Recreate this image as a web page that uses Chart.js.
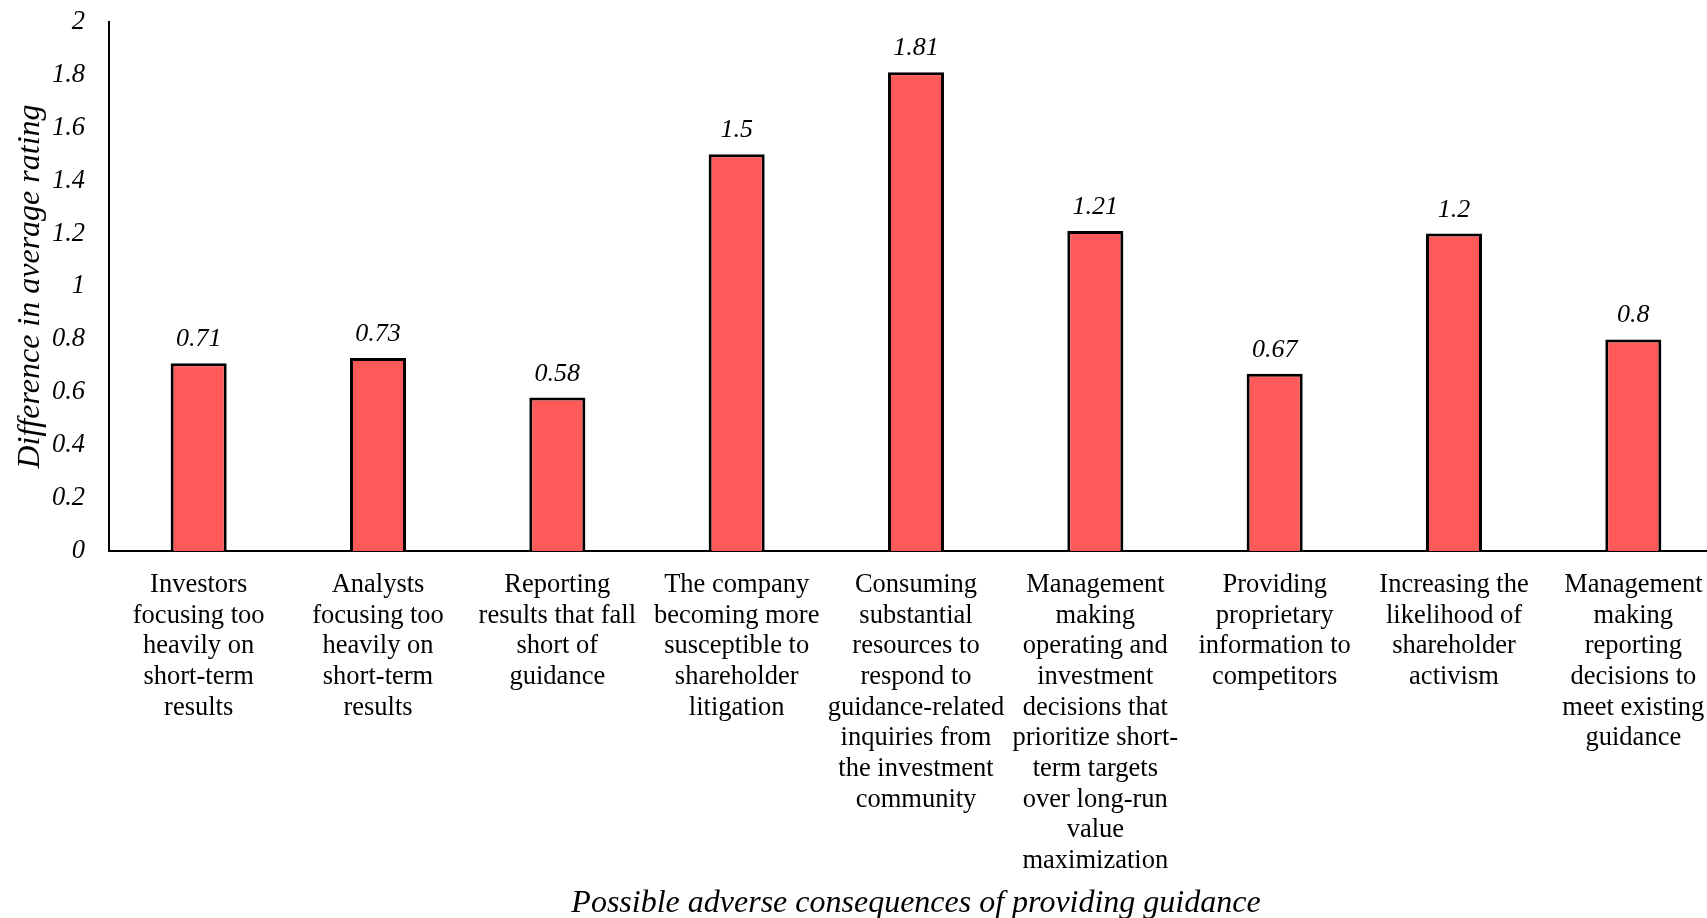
<!DOCTYPE html>
<html lang="en">
<head>
    <meta charset="UTF-8">
    <title>Possible adverse consequences of providing guidance</title>
    <script src="https://cdn.jsdelivr.net/npm/chart.js"></script>
    <style>
        html, body { margin: 0; padding: 0; background: #fff; overflow: hidden; }
        #wrap { width: 1724px; height: 918px; }
    </style>
</head>
<body>
    <div id="wrap">
        <canvas id="myChart" width="1724" height="918"></canvas>
    </div>
    <script>
        // categories, one entry per bar (already split into lines)
        const consequences = [
            ["Investors", "focusing too", "heavily on", "short-term", "results"],
            ["Analysts", "focusing too", "heavily on", "short-term", "results"],
            ["Reporting", "results that fall", "short of", "guidance"],
            ["The company", "becoming more", "susceptible to", "shareholder", "litigation"],
            ["Consuming", "substantial", "resources to", "respond to", "guidance-related", "inquiries from", "the investment", "community"],
            ["Management", "making", "operating and", "investment", "decisions that", "prioritize short-", "term targets", "over long-run", "value", "maximization"],
            ["Providing", "proprietary", "information to", "competitors"],
            ["Increasing the", "likelihood of", "shareholder", "activism"],
            ["Management", "making", "reporting", "decisions to", "meet existing", "guidance"]
        ];

        const ratingDiff = [0.71, 0.73, 0.58, 1.5, 1.81, 1.21, 0.67, 1.2, 0.8];

        const yTicks = ["0", "0.2", "0.4", "0.6", "0.8", "1", "1.2", "1.4", "1.6", "1.8", "2"];

        const serif = "'Liberation Serif', 'Times New Roman', serif";

        // value written above each bar
        const barValues = {
            id: 'barValues',
            afterDatasetsDraw(chart) {
                const ctx = chart.ctx;
                const meta = chart.getDatasetMeta(0);
                ctx.save();
                ctx.font = 'italic 26px ' + serif;
                ctx.fillStyle = '#000';
                ctx.textAlign = 'center';
                ctx.textBaseline = 'alphabetic';
                meta.data.forEach(function(bar, i) {
                    ctx.fillText(String(ratingDiff[i]), bar.x, bar.y - 17);
                });
                ctx.restore();
            }
        };

        const ctx = document.getElementById('myChart').getContext('2d');

        const myChart = new Chart(ctx, {
            type: 'bar',
            data: {
                labels: consequences,
                datasets: [{
                    data: ratingDiff,
                    backgroundColor: '#FF5A5A',
                    borderColor: '#000',
                    borderWidth: 3,
                    borderSkipped: 'bottom',
                    barPercentage: 1,
                    categoryPercentage: 0.3125
                }]
            },
            options: {
                responsive: false,
                animation: false,
                layout: { padding: { top: 22, right: 1, left: 0, bottom: 0 } },
                plugins: {
                    legend: { display: false },
                    tooltip: { enabled: false }
                },
                scales: {
                    x: {
                        grid: { display: false, drawTicks: false },
                        border: { display: true, color: '#000', width: 2 },
                        ticks: {
                            autoSkip: false,
                            maxRotation: 0,
                            minRotation: 0,
                            padding: 19,
                            color: '#000',
                            font: { family: serif, size: 26.5, lineHeight: 1.155 }
                        },
                        title: {
                            display: true,
                            text: 'Possible adverse consequences of providing guidance',
                            color: '#000',
                            font: { family: serif, size: 32, style: 'italic', lineHeight: 0.88 },
                            padding: { top: 0, bottom: 0 }
                        },
                        afterFit: function(scale) { scale.height = 367; }
                    },
                    y: {
                        min: 0,
                        max: 2,
                        grid: { display: false, drawTicks: false },
                        border: { display: true, color: '#000', width: 2 },
                        ticks: {
                            stepSize: 0.2,
                            padding: 24,
                            color: '#000',
                            font: { family: serif, size: 26.5, style: 'italic' },
                            callback: function(value, index) { return yTicks[index]; }
                        },
                        title: {
                            display: true,
                            text: 'Difference in average rating',
                            color: '#000',
                            font: { family: serif, size: 32, style: 'italic', lineHeight: 1.2 },
                            padding: { top: 11, bottom: 0 }
                        },
                        afterFit: function(scale) {
                            scale.width = 109;
                            // let the layout padding decide where the plot starts
                            scale.paddingTop = 0;
                            scale.paddingBottom = 0;
                        }
                    }
                }
            },
            plugins: [barValues]
        });
    </script>
</body>
</html>
